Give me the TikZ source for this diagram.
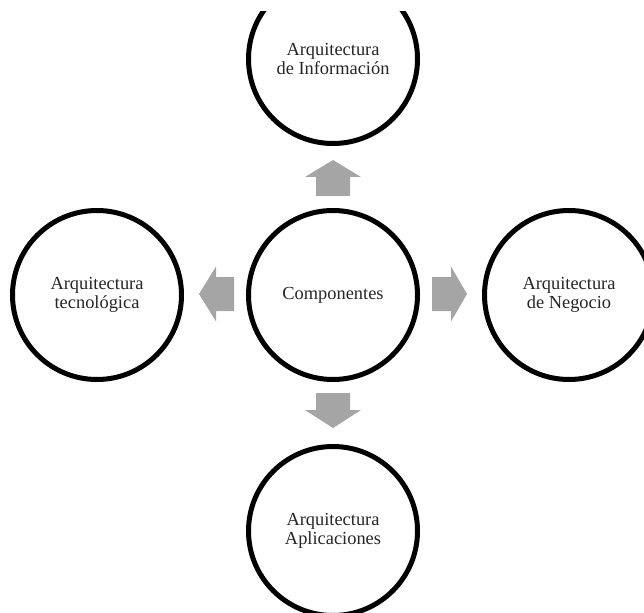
\documentclass[tikz,border=0pt]{standalone}
\usepackage{fontspec}
\setmainfont{Liberation Serif}
\begin{document}
\begin{tikzpicture}[x=1pt,y=-1pt,
  comp/.style={circle,draw=black,line width=5pt,minimum size=169pt,inner sep=0pt,
    align=center,font=\fontsize{18.4}{18.4}\selectfont,text=black!85},
  blockarrow/.style={fill=arrowgray,draw=none}]
\definecolor{arrowgray}{HTML}{A5A5A5}
\useasboundingbox (0,0) rectangle (644,612);
\clip (0,12) rectangle (644,612);
\node[comp] (c) at (333,295) {Componentes};
\node[comp] (top) at (333,59) {Arquitectura\\de Información};
\node[comp] (bot) at (333,531) {Arquitectura\\Aplicaciones};
\node[comp] (lft) at (97,295) {Arquitectura\\tecnológica};
\node[comp] (rgt) at (569,295) {Arquitectura\\de Negocio};
\fill[blockarrow] (333,160) -- (361,177) -- (350,177) -- (350,196) -- (316,196) -- (316,177) -- (305,177) -- cycle;
\fill[blockarrow] (333,428) -- (361,410) -- (350,410) -- (350,393) -- (316,393) -- (316,410) -- (305,410) -- cycle;
\fill[blockarrow] (199,294) -- (216,266.5) -- (216,277) -- (234,277) -- (234,311) -- (216,311) -- (216,321.5) -- cycle;
\fill[blockarrow] (467,294) -- (451,266.5) -- (451,277) -- (432,277) -- (432,311) -- (451,311) -- (451,321.5) -- cycle;
\end{tikzpicture}
\end{document}
